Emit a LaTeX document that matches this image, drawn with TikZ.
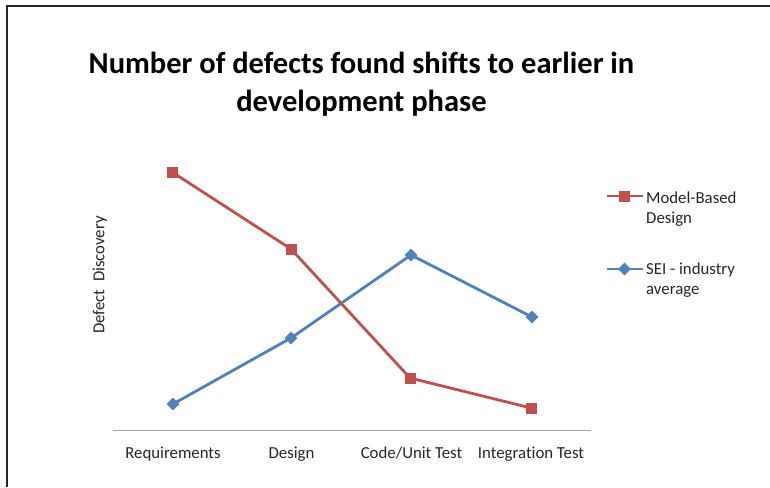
\documentclass[tikz,border=0pt]{standalone}
\usepackage{fontspec}
\setmainfont{Carlito}[Ligatures=NoCommon]
\usetikzlibrary{shapes.geometric}
\definecolor{mbdred}{HTML}{C0504D}
\definecolor{seiblue}{HTML}{4F81BD}
\definecolor{txtgray}{HTML}{262626}
\tikzset{
  px/.style={x=1pt,y=-1pt},
  redline/.style={mbdred,line width=2.8pt},
  blueline/.style={seiblue,line width=2.8pt},
  sqmark/.style={rectangle,fill=mbdred,minimum size=11pt,inner sep=0pt},
  dmmark/.style={diamond,fill=seiblue,minimum size=13pt,inner sep=0pt},
  catlabel/.style={font=\fontsize{16.8}{20}\selectfont,text=txtgray,anchor=base,inner sep=0pt},
  leglabel/.style={font=\fontsize{16.8}{20}\selectfont,text=txtgray,anchor=base west,inner sep=0pt},
}
\begin{document}
\begin{tikzpicture}[px]
\useasboundingbox (0,0) rectangle (770,487);
\fill[white] (0,0) rectangle (770,487);
% frame
\draw[line width=1.5pt,black!85] (7,487) -- (7,6) -- (770,6);
% title
\node[font=\bfseries\fontsize{30.5}{38}\selectfont,align=center,inner sep=0pt] (title) at (361.5,84)
  {Number of defects found shifts to earlier in\\development phase};
% axis
\coordinate (axL) at (113,430);
\coordinate (axR) at (591,430);
\draw[gray!70,line width=1pt] (axL) -- (axR);
% category labels
\node[catlabel] (c1) at (173,458) {Requirements};
\node[catlabel] (c2) at (291.5,458) {Design};
\node[catlabel] (c3) at (411.5,458) {Code/Unit Test};
\node[catlabel] (c4) at (531,458) {Integration Test};
% y title
\node[catlabel,anchor=center,rotate=90] (ytitle) at (100,275) {Defect\ \ Discovery};
% data
\coordinate (r1) at (172,172);
\coordinate (r2) at (291,249);
\coordinate (r3) at (410,378);
\coordinate (r4) at (531,408);
\coordinate (b1) at (173,404);
\coordinate (b2) at (291,338);
\coordinate (b3) at (411,255);
\coordinate (b4) at (532,317);
\draw[blueline,line join=round] (b1) -- (b2) -- (b3) -- (b4);
\draw[redline,line join=round] (r1) -- (r2) -- (r3) -- (r4);
\foreach \p in {b1,b2,b3,b4} \node[dmmark] at (\p) {};
\foreach \p in {r1,r2,r3,r4} \node[sqmark] at (\p) {};
% legend
\coordinate (lr1) at (607,196);
\coordinate (lr2) at (643,196);
\coordinate (lb1) at (607,269);
\coordinate (lb2) at (643,269);
\draw[redline] (lr1) -- (lr2);
\node[sqmark] (lrm) at (624.5,196) {};
\draw[blueline] (lb1) -- (lb2);
\node[dmmark] (lbm) at (624.5,269) {};
\node[leglabel] (l1a) at (646,203.3) {Model-Based};
\node[leglabel] (l1b) at (646,223.3) {Design};
\node[leglabel] (l2a) at (646,274) {SEI - industry};
\node[leglabel] (l2b) at (646,294) {average};
\end{tikzpicture}
\end{document}
